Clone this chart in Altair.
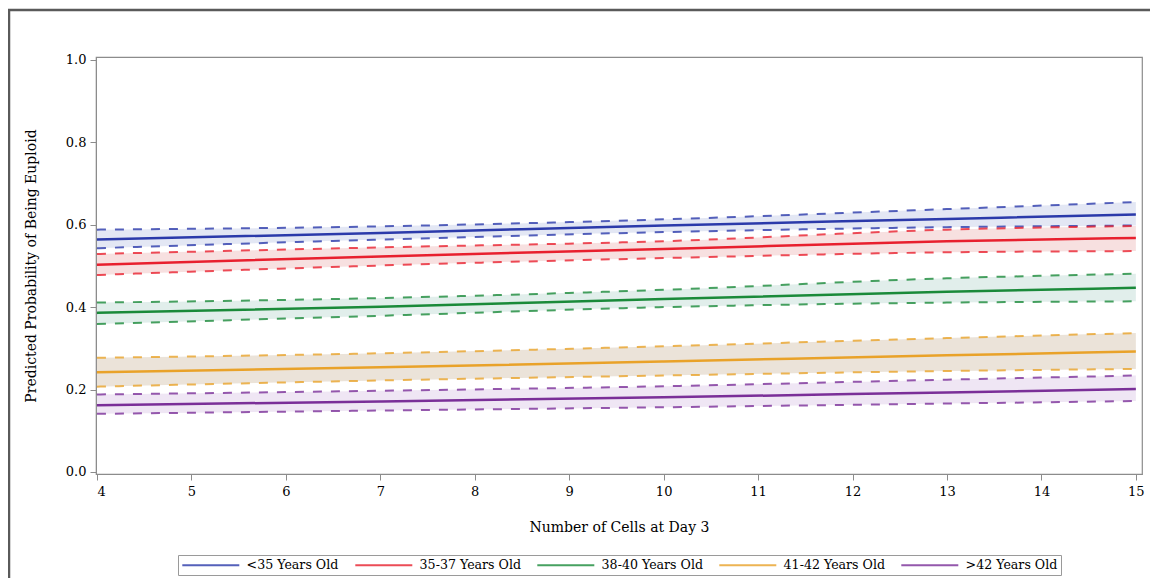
import altair as alt
import pandas as pd

cells = [4, 7, 10, 13, 15]
groups = ["<35 Years Old", "35-37 Years Old", "38-40 Years Old", "41-42 Years Old", ">42 Years Old"]

est_lt35 = [0.564, 0.580, 0.598, 0.614, 0.625]
hi_lt35 = [0.588, 0.596, 0.613, 0.638, 0.655]
lo_lt35 = [0.543, 0.564, 0.582, 0.594, 0.598]

est_3537 = [0.503, 0.523, 0.541, 0.560, 0.568]
hi_3537 = [0.529, 0.545, 0.560, 0.588, 0.597]
lo_3537 = [0.478, 0.501, 0.519, 0.533, 0.536]

est_3840 = [0.386, 0.401, 0.420, 0.437, 0.447]
hi_3840 = [0.411, 0.422, 0.442, 0.470, 0.481]
lo_3840 = [0.359, 0.379, 0.400, 0.411, 0.414]

est_4142 = [0.242, 0.254, 0.268, 0.283, 0.292]
hi_4142 = [0.277, 0.288, 0.305, 0.325, 0.337]
lo_4142 = [0.207, 0.222, 0.234, 0.245, 0.250]

est_gt42 = [0.162, 0.171, 0.181, 0.193, 0.201]
hi_gt42 = [0.188, 0.197, 0.208, 0.224, 0.234]
lo_gt42 = [0.141, 0.149, 0.157, 0.166, 0.172]

line_colors = ["#2B3AAA", "#E8202E", "#1A8A3A", "#E9A229", "#7A2F98"]
band_colors = ["#DEE3F2", "#F6DADA", "#DCEBE8", "#E7DED2", "#ECE2F2"]

series = [
    (est_lt35, lo_lt35, hi_lt35),
    (est_3537, lo_3537, hi_3537),
    (est_3840, lo_3840, hi_3840),
    (est_4142, lo_4142, hi_4142),
    (est_gt42, lo_gt42, hi_gt42),
]
band_names = [g + " CL" for g in groups]
rows = []
for g, b, (e, lo, hi) in zip(groups, band_names, series):
    for x, ev, lv, hv in zip(cells, e, lo, hi):
        rows.append({"cells": x, "group": g, "band": b, "est": ev, "lo": lv, "hi": hv})
df = pd.DataFrame(rows)

FONT = "DejaVu Serif"
W, H = 1046, 417

xs = alt.Scale(domain=[3.99, 15.065], nice=False, zero=False)
ys = alt.Scale(domain=[-0.005, 1.007], nice=False, zero=False)

xenc = alt.X("cells:Q", scale=xs, axis=alt.Axis(
    title="Number of Cells at Day 3", values=list(range(4, 16)), format="d",
    grid=False, tickSize=6, labelPadding=5, titlePadding=22,
))
base = alt.Chart(df)

band = base.mark_area(opacity=0.85, interpolate="monotone").encode(
    x=xenc,
    y=alt.Y("lo:Q", scale=ys, axis=alt.Axis(
        title="Predicted Probability of Being Euploid",
        values=[0, 0.2, 0.4, 0.6, 0.8, 1.0], format=".1f", grid=False,
        tickSize=6, labelPadding=4, titlePadding=27,
    )),
    y2="hi:Q",
    fill=alt.Fill("band:N", scale=alt.Scale(domain=band_names, range=band_colors), legend=None),
    detail="band:N",
)

stroke_scale = alt.Scale(domain=groups, range=line_colors)

est_line = base.mark_line(strokeWidth=2.5, interpolate="monotone").encode(
    x="cells:Q", y="est:Q",
    color=alt.Color("group:N", scale=stroke_scale, title=None, legend=alt.Legend(
        orient="none", legendX=82, legendY=498, direction="horizontal",
        symbolType="M-1,0H9", symbolSize=130, symbolStrokeWidth=2,
        symbolDash=[1, 0], symbolOpacity=1,
        labelFont=FONT, labelFontSize=12.6, labelColor="#000000",
        labelOffset=51.6, columnPadding=12, padding=3,
        strokeColor="#9a9a9a", fillColor="#ffffff",
    )),
    detail="group:N",
)
lo_line = base.mark_line(strokeDash=[9, 9], strokeWidth=2, opacity=0.8, interpolate="monotone").encode(
    x="cells:Q", y="lo:Q",
    color=alt.Color("group:N", scale=stroke_scale),
    detail="group:N",
)
hi_line = base.mark_line(strokeDash=[9, 9], strokeWidth=2, opacity=0.8, interpolate="monotone").encode(
    x="cells:Q", y="hi:Q",
    color=alt.Color("group:N", scale=stroke_scale),
    detail="group:N",
)

frame_df = pd.DataFrame({"k": [0]})
top_rule = alt.Chart(frame_df).mark_rule(color="#5a5a5a", strokeWidth=2.5).encode(
    x=alt.value(-88), x2=alt.value(W + 20), y=alt.value(-47)
)
left_rule = alt.Chart(frame_df).mark_rule(color="#5a5a5a", strokeWidth=2.5).encode(
    x=alt.value(-87), y=alt.value(-48), y2=alt.value(530)
)

chart = alt.layer(band, est_line, lo_line, hi_line, top_rule, left_rule).properties(
    width=W, height=H,
    autosize=alt.AutoSizeParams(type="none"),
    padding={"left": 88, "top": 49, "right": 8, "bottom": 104},
).configure_view(
    stroke="#8c8c8c", strokeWidth=1.2
).configure_axis(
    labelFont=FONT, titleFont=FONT, labelFontSize=13, titleFontSize=14,
    labelColor="#000000", titleColor="#000000", titleFontWeight="normal",
    domainColor="#8c8c8c", tickColor="#8c8c8c",
)

chart.save("out.html", embed_options={"renderer": "svg", "actions": False})
